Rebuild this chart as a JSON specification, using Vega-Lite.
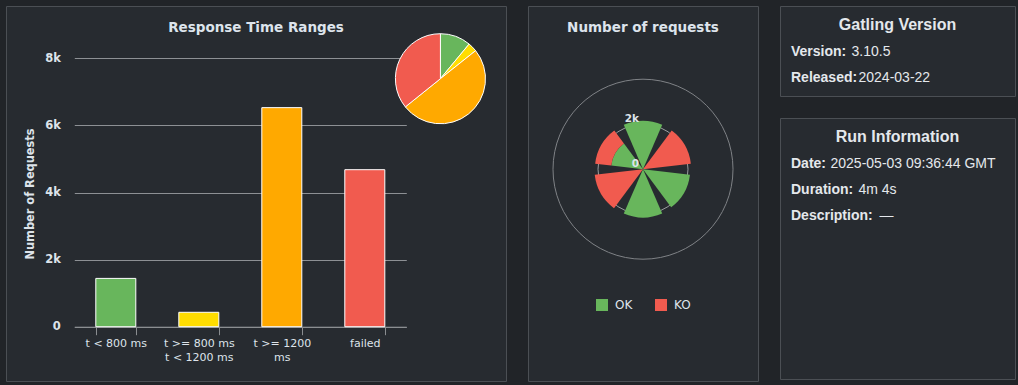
{
  "$schema": "https://vega.github.io/schema/vega-lite/v6.json",
  "background": "#212428",
  "padding": {"left": 5, "top": 5, "right": 4, "bottom": 5},
  "bounds": "flush",
  "spacing": 22,
  "resolve": {"scale": {"color": "independent"}, "legend": {"color": "independent"}},
  "config": {
    "view": {"fill": "#272b30", "stroke": "#4b4f54", "strokeWidth": 1},
    "font": "DejaVu Sans"
  },
  "datasets": {
    "ranges": [
      {"bucket": "t < 800 ms", "requests": 1440},
      {"bucket": "t >= 800 ms t < 1200 ms", "requests": 430},
      {"bucket": "t >= 1200 ms", "requests": 6530},
      {"bucket": "failed", "requests": 4680}
    ],
    "requests": [
      {"request": "request 1", "status": "OK", "count": 2150},
      {"request": "request 2", "status": "KO", "count": 2140},
      {"request": "request 3", "status": "OK", "count": 2100},
      {"request": "request 4", "status": "OK", "count": 2150},
      {"request": "request 5", "status": "KO", "count": 2160},
      {"request": "request 6", "status": "OK", "count": 1420},
      {"request": "request 6", "status": "KO", "count": 720}
    ],
    "gatling": [
      {"key": "Version:", "value": "3.10.5"},
      {"key": "Released:", "value": "2024-03-22"}
    ],
    "run": [
      {"key": "Date:", "value": "2025-05-03 09:36:44 GMT"},
      {"key": "Duration:", "value": "4m 4s"},
      {"key": "Description:", "value": "—"}
    ]
  },
  "hconcat": [
    {
      "width": 500,
      "height": 375,
      "title": {"text": "Response Time Ranges", "anchor": "middle", "frame": "group", "baseline": "middle", "offset": -35.7, "font": "DejaVu Sans", "fontSize": 13.5, "fontWeight": "bold", "color": "#dde4ec"},
      "data": {"name": "ranges"},
      "layer": [
        {
          "mark": {"type": "bar", "stroke": "#ffffff", "strokeWidth": 1},
          "encoding": {
            "x": {
              "field": "bucket", "type": "nominal", "sort": null,
              "scale": {"domain": ["t < 800 ms", "t >= 800 ms t < 1200 ms", "t >= 1200 ms", "failed"], "range": [68.3, 400.3], "paddingInner": 0.518, "paddingOuter": 0.259},
              "axis": {
                "orient": "bottom", "offset": -54.3, "title": null,
                "domainColor": "#8a8d90", "tickColor": "#8a8d90", "tickSize": 8, "tickBand": "extent",
                "labelAngle": 0, "labelColor": "#dde3ea", "labelFont": "DejaVu Sans", "labelFontSize": 11,
                "labelPadding": 3, "labelLineHeight": 14, "labelBaseline": "top",
                "labelExpr": "datum.label == 't >= 800 ms t < 1200 ms' ? ['t >= 800 ms', 't < 1200 ms'] : datum.label == 't >= 1200 ms' ? ['t >= 1200', 'ms'] : datum.label"
              }
            },
            "y": {
              "field": "requests", "type": "quantitative",
              "scale": {"domain": [-1618, 9559], "nice": false, "zero": false},
              "axis": {
                "orient": "left", "offset": -68.3, "values": [0, 2000, 4000, 6000, 8000],
                "labelExpr": "datum.value == 0 ? '0' : (datum.value / 1000) + 'k'",
                "domain": false, "ticks": false, "tickSize": 0, "labelPadding": 14,
                "grid": true, "gridColor": "#8d9094", "gridWidth": 1,
                "labelFont": "DejaVu Sans", "labelFontSize": 11.5, "labelFontWeight": "bold", "labelColor": "#dde3ea",
                "title": "Number of Requests", "titleFont": "DejaVu Sans", "titleFontSize": 11.4, "titleFontWeight": "bold", "titleColor": "#dde3ea", "titlePadding": 9
              }
            },
            "color": {
              "field": "bucket", "type": "nominal",
              "scale": {"domain": ["t < 800 ms", "t >= 800 ms t < 1200 ms", "t >= 1200 ms", "failed"], "range": ["#68b65c", "#ffdd00", "#ffa900", "#f15b4f"]},
              "legend": null
            }
          }
        },
        {
          "transform": [{"calculate": "indexof(['t < 800 ms', 't >= 800 ms t < 1200 ms', 't >= 1200 ms', 'failed'], datum.bucket)", "as": "k"}],
          "mark": {"type": "arc", "radius": 45, "stroke": "#ffffff", "strokeWidth": 1},
          "encoding": {
            "theta": {"field": "requests", "type": "quantitative", "stack": true},
            "order": {"field": "k", "type": "quantitative"},
            "color": {"field": "bucket", "type": "nominal", "legend": null},
            "x": {"datum": "failed", "bandPosition": 2.39},
            "y": {"datum": 7392}
          }
        }
      ]
    },
    {
      "width": 230,
      "height": 375,
      "title": {"text": "Number of requests", "anchor": "middle", "frame": "group", "baseline": "middle", "offset": -35.7, "font": "DejaVu Sans", "fontSize": 13.5, "fontWeight": "bold", "color": "#dde4ec"},
      "layer": [
        {
          "data": {"values": [{}]},
          "mark": {"type": "arc", "filled": false, "fill": null, "stroke": "#7f8286", "strokeWidth": 1, "theta": 0, "theta2": 6.2832},
          "encoding": {
            "radius": {"datum": 4000, "type": "quantitative", "scale": {"type": "linear", "domain": [0, 4000], "range": [0, 90], "zero": true, "nice": false}},
            "y": {"datum": 0, "type": "quantitative", "scale": {"domain": [-9413, 7253], "nice": false, "zero": false}, "axis": null}
          }
        },
        {
          "data": {"values": [{}]},
          "mark": {"type": "arc", "filled": false, "fill": null, "stroke": "#9a9da0", "strokeWidth": 1, "theta": 0, "theta2": 6.2832},
          "encoding": {
            "radius": {"datum": 2000, "type": "quantitative"},
            "y": {"datum": 0, "type": "quantitative", "axis": null}
          }
        },
        {
          "data": {"name": "requests"},
          "mark": {"type": "arc"},
          "encoding": {
            "theta": {"field": "request", "type": "nominal", "sort": null, "scale": {"range": [-0.5236, 5.7596], "paddingInner": 0.22, "paddingOuter": 0.11}},
            "radius": {"field": "count", "type": "quantitative", "stack": "zero"},
            "order": {"field": "status", "sort": "descending"},
            "color": {
              "field": "status", "type": "nominal",
              "scale": {"domain": ["OK", "KO"], "range": ["#68b65c", "#f15b4f"]},
              "legend": {"orient": "none", "legendX": 68, "legendY": 293, "direction": "horizontal", "title": null, "padding": 0, "symbolType": "square", "symbolSize": 144, "symbolStrokeWidth": 0, "labelColor": "#dfe5ec", "labelFont": "DejaVu Sans", "labelFontSize": 12, "labelOffset": 7, "columnPadding": 22}
            },
            "y": {"datum": 0, "type": "quantitative", "axis": null}
          }
        },
        {
          "data": {"values": [{"label": "0", "r": 0}, {"label": "2k", "r": 2000}]},
          "mark": {"type": "text", "align": "right", "baseline": "middle", "dx": -4, "dy": -5, "font": "DejaVu Sans", "fontSize": 10.5, "fontWeight": "bold", "color": "#dde3ea"},
          "encoding": {
            "text": {"field": "label"},
            "y": {"field": "r", "type": "quantitative", "axis": null}
          }
        }
      ]
    },
    {
      "vconcat": [
        {
          "width": 235,
          "height": 90,
          "title": {"text": "Gatling Version", "anchor": "middle", "frame": "group", "baseline": "middle", "offset": -35.3, "font": "Liberation Sans", "fontSize": 16, "fontWeight": "bold", "color": "#e4e8ec"},
          "data": {"name": "gatling"},
          "transform": [{"calculate": "length(datum.key)", "as": "n"}],
          "encoding": {
            "y": {"field": "key", "type": "nominal", "sort": null, "scale": {"type": "point", "range": [46, 72], "padding": 0}, "axis": null}
          },
          "layer": [
            {
              "mark": {"type": "text", "align": "left", "baseline": "middle", "font": "Liberation Sans", "fontSize": 14, "fontWeight": "bold", "color": "#e4e8ec"},
              "encoding": {
                "x": {"datum": 1.571, "type": "quantitative", "scale": {"domain": [0, 33.571], "nice": false, "zero": false}, "axis": null},
                "text": {"field": "key"}
              }
            },
            {
              "mark": {"type": "text", "align": "left", "baseline": "middle", "dx": 15.5, "font": "Liberation Sans", "fontSize": 14, "color": "#e4e8ec"},
              "encoding": {
                "x": {"field": "n", "type": "quantitative", "axis": null},
                "text": {"field": "value"}
              }
            }
          ]
        },
        {
          "width": 235,
          "height": 261,
          "title": {"text": "Run Information", "anchor": "middle", "frame": "group", "baseline": "middle", "offset": -35.3, "font": "Liberation Sans", "fontSize": 16, "fontWeight": "bold", "color": "#e4e8ec"},
          "data": {"name": "run"},
          "transform": [{"calculate": "length(datum.key)", "as": "n"}],
          "encoding": {
            "y": {"field": "key", "type": "nominal", "sort": null, "scale": {"type": "point", "range": [46, 98], "padding": 0}, "axis": null}
          },
          "layer": [
            {
              "mark": {"type": "text", "align": "left", "baseline": "middle", "font": "Liberation Sans", "fontSize": 14, "fontWeight": "bold", "color": "#e4e8ec"},
              "encoding": {
                "x": {"datum": 1.571, "type": "quantitative", "scale": {"domain": [0, 33.571], "nice": false, "zero": false}, "axis": null},
                "text": {"field": "key"}
              }
            },
            {
              "mark": {"type": "text", "align": "left", "baseline": "middle", "dx": 15.5, "font": "Liberation Sans", "fontSize": 14, "color": "#e4e8ec"},
              "encoding": {
                "x": {"field": "n", "type": "quantitative", "axis": null},
                "text": {"field": "value"}
              }
            }
          ]
        }
      ],
      "spacing": 22,
      "bounds": "flush"
    }
  ]
}
